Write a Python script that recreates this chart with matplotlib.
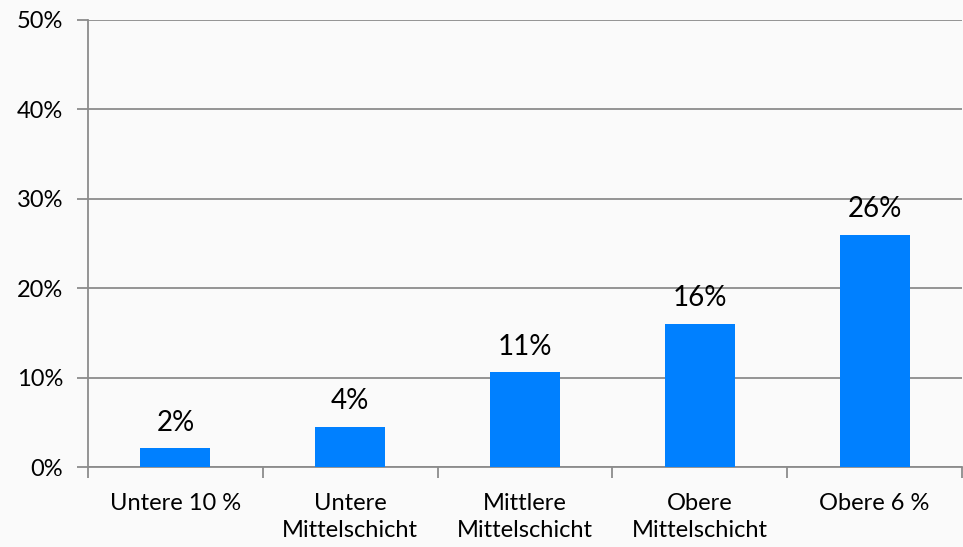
import matplotlib.pyplot as plt

categories = ["Untere 10 %", "Untere\nMittelschicht", "Mittlere\nMittelschicht",
              "Obere\nMittelschicht", "Obere 6 %"]
values = [2.1, 4.5, 10.6, 16.0, 26.0]
yticks = [0, 10, 20, 30, 40, 50]

plt.rcParams["font.family"] = ["Lato", "DejaVu Sans"]
bg = "#fafafa"
grid_col = "#8c8c8c"

fig = plt.figure(figsize=(9.63, 5.47), dpi=100, facecolor=bg)
ax = fig.add_axes([88 / 963, 1 - 467 / 547, 874 / 963, 447 / 547], facecolor=bg)

x = range(len(categories))
ax.bar(x, values, width=0.4, color="#0080ff", zorder=3)
for i, v in enumerate(values):
    ax.text(i, v + 1.4, f"{v:.0f}%", ha="center", va="bottom", fontsize=20, color="black")

ax.set_xlim(-0.5, len(categories) - 0.5)
ax.set_ylim(0, 50)
ax.set_yticks(yticks)
ax.set_yticklabels([f"{t}%" for t in yticks], fontsize=17)
ax.yaxis.grid(True, color=grid_col, linewidth=1.3, zorder=0)

ax.set_xticks([i - 0.5 for i in range(len(categories) + 1)])
ax.set_xticklabels([])
ax.set_xticks(list(x), minor=True)
ax.set_xticklabels(categories, minor=True, fontsize=17, linespacing=1.32)
ax.tick_params(axis="x", which="minor", length=0, pad=19)
ax.tick_params(axis="x", which="major", length=8, width=1.3, color=grid_col)
ax.tick_params(axis="y", length=8, width=1.3, color=grid_col, pad=10)

for side in ["top", "right"]:
    ax.spines[side].set_visible(False)
for side in ["left", "bottom"]:
    ax.spines[side].set_color(grid_col)
    ax.spines[side].set_linewidth(1.3)

fig.savefig("out.png", dpi=100, facecolor=bg)
